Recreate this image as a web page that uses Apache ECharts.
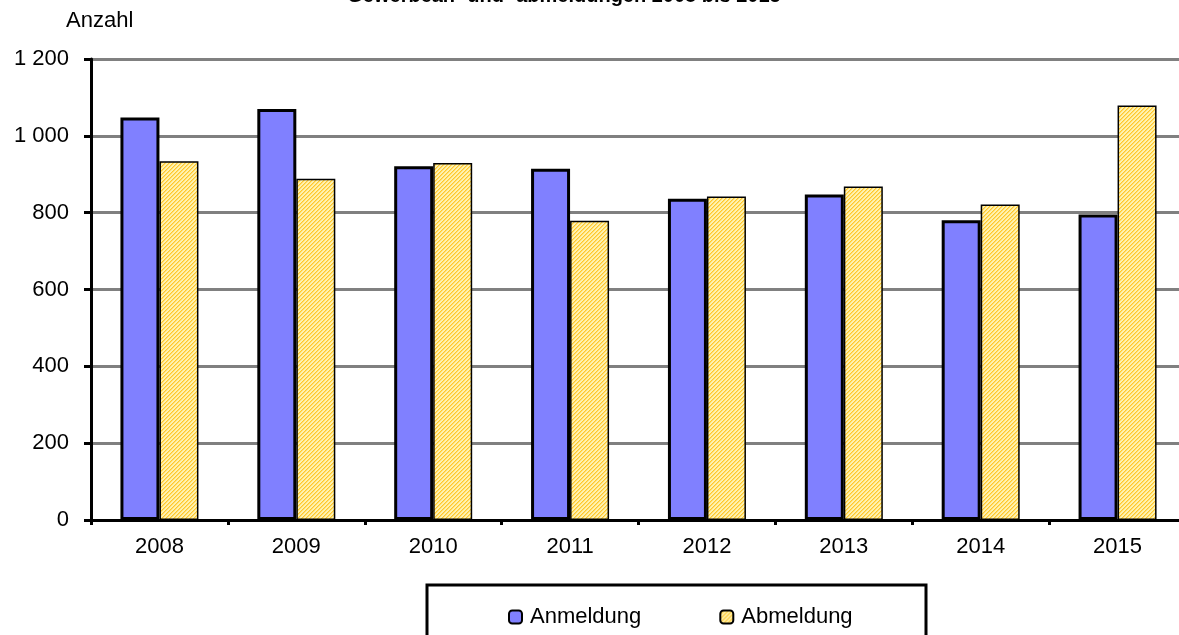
<!DOCTYPE html>
<html>
<head>
<meta charset="utf-8">
<script src="https://cdn.jsdelivr.net/npm/echarts@6/dist/echarts.min.js"></script>
<style>
html,body{margin:0;padding:0;background:#fff;overflow:hidden;}
#chart{width:1190px;height:635px;}
</style>
</head>
<body>
<div id="chart"></div>
<script>
var titleText = 'Gewerbean- und -abmeldungen 2008 bis 2015';
var yAxisTitle = 'Anzahl';
var categories = ['2008', '2009', '2010', '2011', '2012', '2013', '2014', '2015'];
var anmeldung = [1048, 1070, 921, 914, 836, 847, 780, 795];
var abmeldung = [934, 888, 929, 779, 842, 868, 821, 1079];
var seriesNames = ['Anmeldung', 'Abmeldung'];
var yTickLabels = ['0', '200', '400', '600', '800', '1 000', '1 200'];

var FONT = 'Liberation Sans, Arial, sans-serif';

// hatch pattern for Abmeldung
var pc = document.createElement('canvas');
pc.width = 4; pc.height = 4;
var px = pc.getContext('2d');
px.fillStyle = '#FFF2B0';
px.fillRect(0, 0, 4, 4);
px.fillStyle = '#FFC82A';
for (var i = 0; i < 4; i++) { px.fillRect(i, 3 - i, 1, 1); }
px.fillStyle = '#FFDC70';
for (var j = 0; j < 4; j++) { px.fillRect((j + 1) % 4, 3 - j, 1, 1); }

var chart = echarts.init(document.getElementById('chart'), null, {renderer: 'canvas'});
chart.setOption({
  backgroundColor: '#ffffff',
  animation: false,
  grid: {left: 91, top: 59, right: 4, bottom: 115, containLabel: false},
  legend: {
    left: 503, top: 601,
    itemWidth: 13, itemHeight: 13, itemGap: 78,
    textStyle: {fontFamily: FONT, fontSize: 22, color: '#000', padding: [0, 0, 0, 3]},
    data: seriesNames
  },
  xAxis: {
    type: 'category',
    data: categories,
    axisLine: {show: true, lineStyle: {color: '#000', width: 3}},
    axisTick: {show: true, alignWithLabel: false, length: 5, lineStyle: {color: '#000', width: 3}},
    axisLabel: {fontFamily: FONT, fontSize: 22, color: '#000', margin: 16},
    splitLine: {show: false}
  },
  yAxis: {
    type: 'value',
    min: 0, max: 1200, interval: 200,
    axisLine: {show: true, lineStyle: {color: '#000', width: 3}},
    axisTick: {show: true, length: 7, lineStyle: {color: '#000', width: 3}},
    axisLabel: {fontFamily: FONT, fontSize: 22, color: '#000', margin: 22,
      formatter: function (v) { return yTickLabels[Math.round(v / 200)]; }},
    splitLine: {show: true, lineStyle: {color: '#808080', width: 3}}
  },
  series: [
    {
      name: seriesNames[0], type: 'bar', data: anmeldung,
      barWidth: 39, barGap: '0%',
      itemStyle: {color: '#8080FF', borderColor: '#000', borderWidth: 3}
    },
    {
      name: seriesNames[1], type: 'bar', data: abmeldung,
      barWidth: 39, barGap: '0%',
      itemStyle: {color: {image: pc, repeat: 'repeat'}, borderColor: '#000', borderWidth: 1.5}
    }
  ],
  graphic: [
    {type: 'text', left: 66, top: 10, style: {text: yAxisTitle, font: '22px ' + FONT, fill: '#000'}},
    {type: 'text', x: 564, y: 6, style: {text: titleText, font: 'bold 20px ' + FONT, fill: '#000', align: 'center', verticalAlign: 'bottom', textAlign: 'center', textVerticalAlign: 'bottom'}},
    {type: 'rect', shape: {x: 427, y: 585, width: 499, height: 80}, style: {fill: 'none', stroke: '#000', lineWidth: 3}, z: 10}
  ]
});
</script>
</body>
</html>
